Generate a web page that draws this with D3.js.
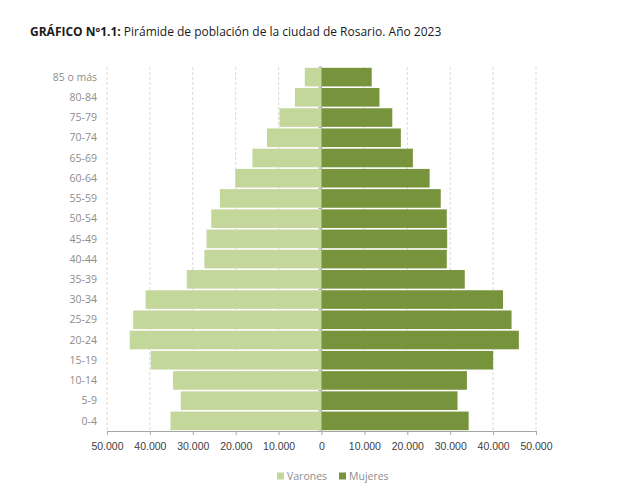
<!DOCTYPE html>
<html>
<head>
<meta charset="utf-8">
<script src="https://cdn.jsdelivr.net/npm/d3@7"></script>
<style>
  body { margin: 0; background: #fff; }
  svg { font-family: "Open Sans", sans-serif; }
</style>
</head>
<body>
<svg id="chart" width="642" height="495"></svg>
<script>
// Age groups, top to bottom
const ageGroups = ['85 o más', '80-84', '75-79', '70-74', '65-69', '60-64', '55-59', '50-54',
  '45-49', '40-44', '35-39', '30-34', '25-29', '20-24', '15-19', '10-14', '5-9', '0-4'];
const varones = [3900, 6200, 9800, 12700, 16100, 20100, 23700, 25700,
  26800, 27300, 31400, 41000, 43900, 44700, 39800, 34600, 32800, 35200];
const mujeres = [11700, 13500, 16500, 18500, 21300, 25200, 27800, 29200,
  29300, 29200, 33400, 42300, 44300, 46000, 40000, 33900, 31700, 34300];
const xTicks = [-50000, -40000, -30000, -20000, -10000, 0, 10000, 20000, 30000, 40000, 50000];
const seriesNames = ['Varones', 'Mujeres'];
const colors = ['#c4d79b', '#77933c'];

const svg = d3.select('#chart');
const margin = { top: 67, bottom: 64, left: 107, right: 106 };
const width = 642, height = 495;

const x = d3.scaleLinear([-50000, 50000], [margin.left, width - margin.right]);
const y = d3.scaleBand(ageGroups, [margin.top, height - margin.bottom]).paddingInner(0.08).paddingOuter(0.04);
const fmt = d => d3.format(',')(Math.abs(d)).replace(/,/g, '.');

// gridlines
svg.append('g')
  .selectAll('line')
  .data(xTicks.filter(d => d !== 0))
  .join('line')
  .attr('x1', d => x(d)).attr('x2', d => x(d))
  .attr('y1', margin.top).attr('y2', height - margin.bottom)
  .attr('stroke', '#d9d9d9')
  .attr('stroke-dasharray', '3,2');

// bars
const rows = ageGroups.map((g, i) => ({ g, v: varones[i], m: mujeres[i] }));
svg.append('g')
  .selectAll('rect')
  .data(rows)
  .join('rect')
  .attr('x', d => x(-d.v))
  .attr('y', d => y(d.g))
  .attr('width', d => x(0) - x(-d.v))
  .attr('height', y.bandwidth())
  .attr('fill', colors[0]);

svg.append('g')
  .selectAll('rect')
  .data(rows)
  .join('rect')
  .attr('x', x(0))
  .attr('y', d => y(d.g))
  .attr('width', d => x(d.m) - x(0))
  .attr('height', y.bandwidth())
  .attr('fill', colors[1]);

// bottom axis
const xAxis = svg.append('g')
  .attr('transform', `translate(0,${height - margin.bottom})`)
  .call(d3.axisBottom(x).tickValues(xTicks).tickFormat(fmt).tickSizeOuter(0).tickSize(4));
xAxis.select('.domain').attr('stroke', '#a6a6a6');
xAxis.selectAll('.tick line').attr('stroke', '#a6a6a6');
xAxis.selectAll('text').attr('fill', '#404040').attr('font-size', 10.5).attr('dy', '1.1em');

// center axis with ticks between categories
const yAxis = svg.append('g').attr('transform', `translate(${x(0)},0)`);
yAxis.append('line')
  .attr('y1', margin.top).attr('y2', height - margin.bottom)
  .attr('stroke', '#a6a6a6');
const step = y.step();
yAxis.selectAll('line.tk')
  .data(d3.range(ageGroups.length + 1))
  .join('line')
  .attr('class', 'tk')
  .attr('x1', -3).attr('x2', 0)
  .attr('y1', i => margin.top + i * step).attr('y2', i => margin.top + i * step)
  .attr('stroke', '#a6a6a6');

// category labels
svg.append('g')
  .selectAll('text')
  .data(ageGroups)
  .join('text')
  .attr('x', 97)
  .attr('y', d => y(d) + y.bandwidth() / 2)
  .attr('dy', '0.35em')
  .attr('text-anchor', 'end')
  .attr('fill', '#8c8c8c')
  .attr('font-size', 10.5)
  .text(d => d);

// title
const title = svg.append('text').attr('x', 30).attr('y', 36).attr('font-size', 12).attr('fill', '#1a1a1a');
title.append('tspan').attr('font-weight', 'bold').text('GRÁFICO Nº1.1:');
title.append('tspan').text(' Pirámide de población de la ciudad de Rosario. Año 2023');

// legend
const legend = svg.append('g').attr('transform', 'translate(277,476)');
const items = legend.selectAll('g')
  .data(seriesNames)
  .join('g')
  .attr('transform', (d, i) => `translate(${i * 62},0)`);
items.append('rect').attr('x', 0).attr('y', -3.5).attr('width', 7).attr('height', 7)
  .attr('fill', (d, i) => colors[i]);
items.append('text').attr('x', 10).attr('dy', '0.35em')
  .attr('font-size', 10.5).attr('fill', '#8c8c8c').text(d => d);
</script>
</body>
</html>
